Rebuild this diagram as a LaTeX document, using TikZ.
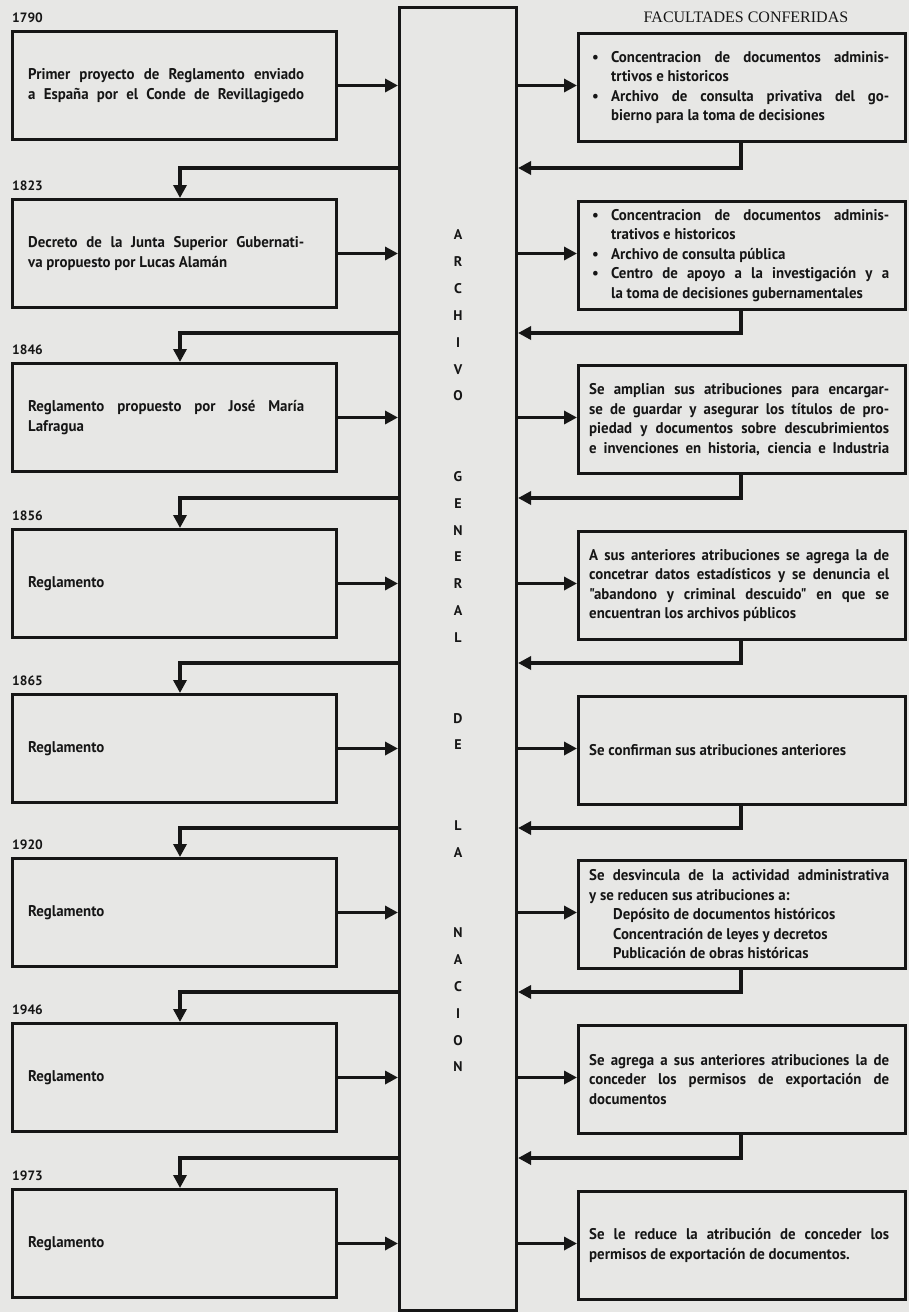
\documentclass[tikz,border=0pt]{standalone}
\usepackage{fontspec}
\setmainfont{PT Sans}
\newfontfamily\bodyfont[FakeStretch=0.96]{PT Sans}
\newfontfamily\titlefont{Liberation Serif}
\usetikzlibrary{arrows.meta}
\definecolor{bg}{RGB}{231,231,229}
\definecolor{ink}{RGB}{22,22,22}
\newcommand\jl[2]{\makebox[#1][s]{#2}}
\newcommand\bul[1]{\makebox[22pt][l]{\hspace{3pt}•}#1}
\newcommand\ind[2][22pt]{\makebox[#1]{}#2}
\begin{document}
\begin{tikzpicture}[x=1pt,y=-1pt,
  box/.style={draw=ink, line width=3pt, minimum height=108pt, inner sep=0pt, anchor=north west},
  lbox/.style={box, minimum width=324pt},
  rbox/.style={box, minimum width=327pt},
  arr/.style={draw=ink, line width=3.6pt, -{Triangle[length=13pt,width=13pt]}},
  txt/.style={font=\bodyfont\bfseries\fontsize{15.5}{19.5}\selectfont, text=ink, align=left, inner sep=0pt, anchor=west},
  yr/.style={font=\bfseries\fontsize{13.5}{15}\selectfont, text=ink, inner sep=0pt, anchor=west},
  vlet/.style={font=\bfseries\fontsize{14}{15}\selectfont, text=ink, inner sep=0pt}
]
\fill[bg] (0,0) rectangle (909,1312);
\useasboundingbox (0,0) rectangle (909,1312);

\node[draw=ink, line width=3pt, minimum width=117pt, minimum height=1303pt, inner sep=0pt, anchor=north west] (C) at (398,6) {};

\foreach \i/\T/\yr in {1/30/1790, 2/198/1823, 3/362/1846, 4/528/1856, 5/693/1865, 6/857/1920, 7/1022/1946, 8/1188/1973} {
  \node[lbox] (L\i) at (11,\T) {};
  \node[rbox] (R\i) at (577,\T+2) {};
  \node[yr] (Y\i) at (12,\T-12) {\yr};
  \draw[arr] (L\i.east) -- (L\i.east -| C.west);
  \draw[arr] (C.east |- L\i.east) -- (R\i.west |- L\i.east);
}

\foreach \i/\j/\F in {1/2/168, 2/3/333, 3/4/498, 4/5/663, 5/6/828, 6/7/992, 7/8/1158} {
  \coordinate (f\j) at (180,\F);
  \coordinate (r\i) at (741,\F);
  \draw[arr] (C.west |- f\j) -- (f\j) -- (f\j |- L\j.north);
  \draw[arr] (r\i |- R\i.south) -- (r\i) -- (r\i -| C.east);
}

\node[font=\titlefont\fontsize{16}{18}\selectfont, text=ink, inner sep=0pt] (H) at (746,17) {FACULTADES CONFERIDAS};

\foreach \ch/\k in {A/0,R/1,C/2,H/3,I/4,V/5,O/6,G/9,E/10,N/11,E/12,R/13,A/14,L/15,D/18,E/19,L/22,A/23,N/26,A/27,C/28,I/29,O/30,N/31}
  \node[vlet] (c\k) at (458,235+26.84*\k) {\ch};

% left texts
\node[txt] (L1t) at ([xshift=17pt]L1.west) {\jl{276pt}{Primer proyecto de Reglamento enviado}\\ \jl{276pt}{a España por el Conde de Revillagigedo}};
\node[txt] (L2t) at ([xshift=17pt]L2.west) {\jl{276pt}{Decreto de la Junta Superior Gubernati-}\\ va propuesto por Lucas Alamán};
\node[txt] (L3t) at ([xshift=17pt]L3.west) {\jl{276pt}{Reglamento propuesto por José María}\\ Lafragua};
\foreach \i in {4,...,8}
  \node[txt] (L\i t) at ([xshift=17pt]L\i.west) {Reglamento};

% right texts
\node[txt] (R1t) at ([xshift=12pt]R1.west) {\bul{\jl{278pt}{Concentracion de documentos adminis-}}\\ \ind{trtivos e historicos}\\ \bul{\jl{278pt}{Archivo de consulta privativa del go-}}\\ \ind{bierno para la toma de decisiones}};
\node[txt] (R2t) at ([xshift=12pt]R2.west) {\bul{\jl{278pt}{Concentracion de documentos adminis-}}\\ \ind{trativos e historicos}\\ \bul{Archivo de consulta pública}\\ \bul{\jl{278pt}{Centro de apoyo a la investigación y a}}\\ \ind{la toma de decisiones gubernamentales}};
\node[txt] (R3t) at ([xshift=12pt]R3.west) {\jl{300pt}{Se amplian sus atribuciones para encargar-}\\ \jl{300pt}{se de guardar y asegurar los títulos de pro-}\\ \jl{300pt}{piedad y documentos sobre descubrimientos}\\ \jl{300pt}{e invenciones en historia, ciencia e Industria}};
\node[txt] (R4t) at ([xshift=12pt]R4.west) {\jl{300pt}{A sus anteriores atribuciones se agrega la de}\\ \jl{300pt}{concetrar datos estadísticos y se denuncia el}\\ \jl{300pt}{"abandono y criminal descuido" en que se}\\ encuentran los archivos públicos};
\node[txt] (R5t) at ([xshift=12pt]R5.west) {Se confirman sus atribuciones anteriores};
\node[txt] (R6t) at ([xshift=12pt]R6.west) {\jl{300pt}{Se desvincula de la actividad administrativa}\\ y se reducen sus atribuciones a:\\ \ind[24pt]{Depósito de documentos históricos}\\ \ind[24pt]{Concentración de leyes y decretos}\\ \ind[24pt]{Publicación de obras históricas}};
\node[txt] (R7t) at ([xshift=12pt]R7.west) {\jl{300pt}{Se agrega a sus anteriores atribuciones la de}\\ \jl{300pt}{conceder los permisos de exportación de}\\ documentos};
\node[txt] (R8t) at ([xshift=12pt]R8.west) {\jl{300pt}{Se le reduce la atribución de conceder los}\\ permisos de exportación de documentos.};
\end{tikzpicture}
\end{document}
